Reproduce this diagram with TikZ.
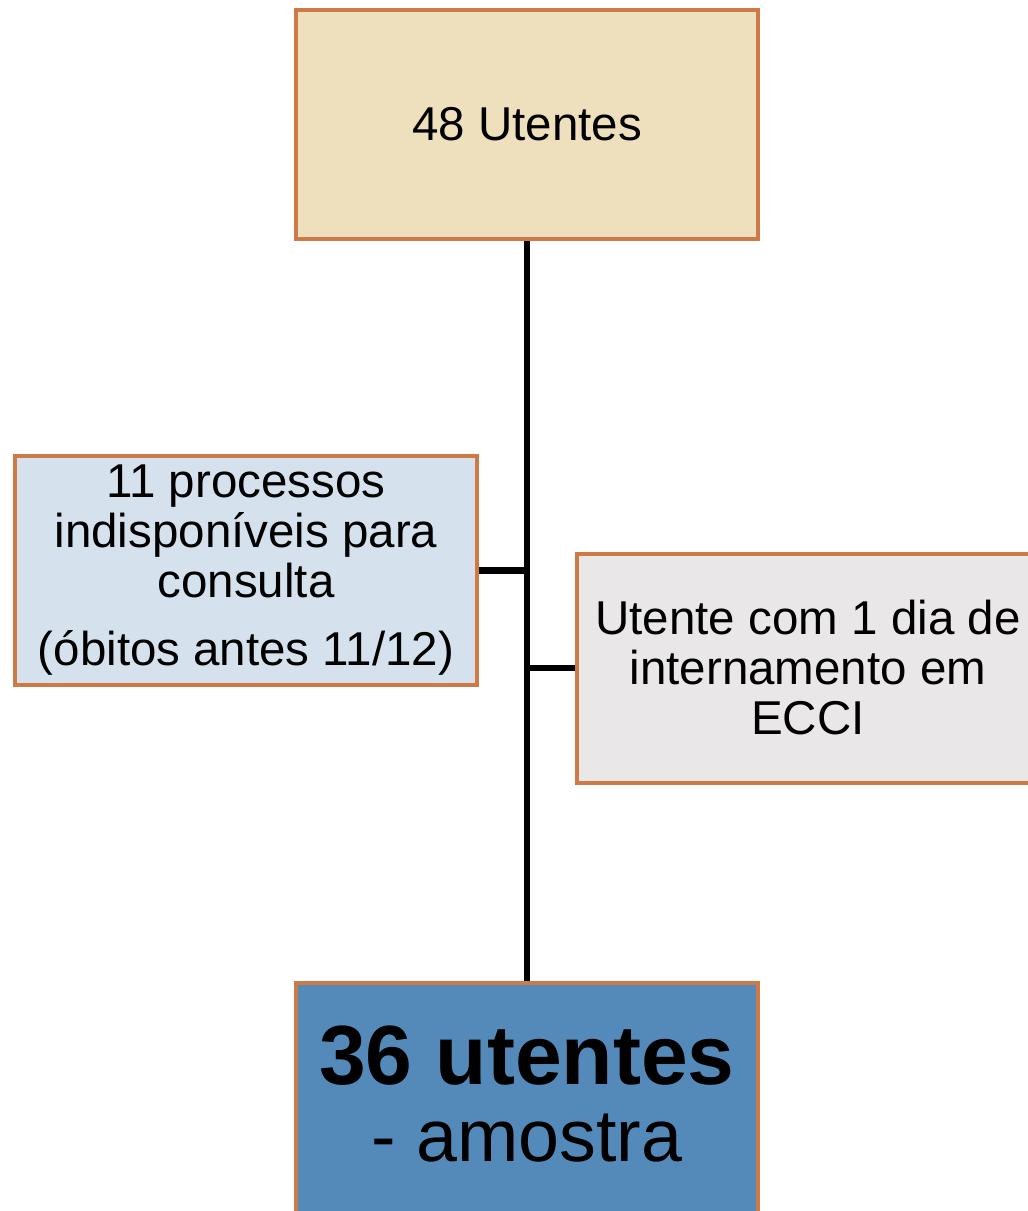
\documentclass[tikz,border=0pt]{standalone}
\usepackage{fontspec}
\setmainfont{Liberation Sans}
\usetikzlibrary{backgrounds}
\definecolor{boxedge}{RGB}{206,122,70}
\definecolor{topfill}{RGB}{238,224,189}
\definecolor{leftfill}{RGB}{213,226,237}
\definecolor{rightfill}{RGB}{233,231,232}
\definecolor{samplefill}{RGB}{84,138,185}
\begin{document}
\begin{tikzpicture}[x=1pt,y=-1pt]
\tikzstyle{every node}+=[inner sep=0pt]
\tikzstyle{box}=[draw=boxedge, line width=4pt, minimum width=462pt, minimum height=229pt, align=center, font=\fontsize{47.5}{50}\selectfont]
\tikzstyle{link}=[black, line width=6.5pt]
\useasboundingbox (0,0) rectangle (1028,1211);
\clip (0,0) rectangle (1028,1211);
\node [box, fill=topfill] (total) at (527,124.5) {48 Utentes};
\node [box, fill=leftfill] (missing) at (246,570.5) {11 processos\\indisponíveis para\\consulta\\[18pt](óbitos antes 11/12)};
\node [box, fill=rightfill] (oneday) at (808,668) {Utente com 1 dia de\\internamento em\\ECCI};
\node [box, fill=samplefill, minimum height=238pt, text depth=16pt, font=\fontsize{73.6}{77}\selectfont] (sample) at (527,1102) {{\fontsize{84}{77}\selectfont\bfseries 36 utentes}\\- amostra};
\begin{pgfonlayer}{background}
\draw [link] (total.south) -- (sample.north);
\draw [link] (missing.east) -- (missing.east -| total.south);
\draw [link] (oneday.west) -- (oneday.west -| total.south);
\end{pgfonlayer}
\end{tikzpicture}
\end{document}
